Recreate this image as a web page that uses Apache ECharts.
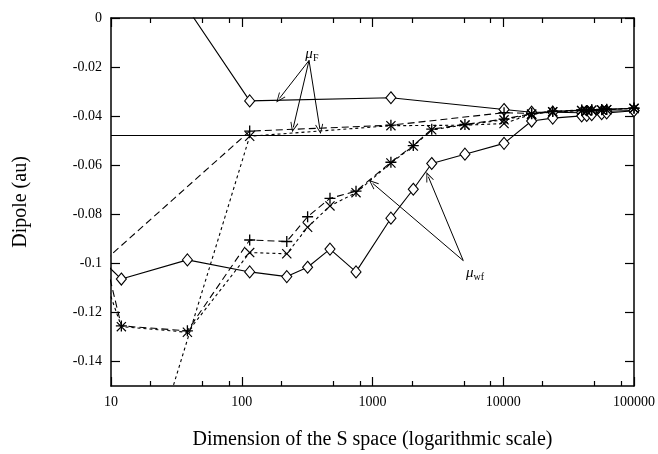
<!DOCTYPE html>
<html><head><meta charset="utf-8">
<script src="https://cdn.jsdelivr.net/npm/echarts@6/dist/echarts.min.js"></script>
<style>html,body{margin:0;padding:0;background:#fff}#c{width:658px;height:454px}</style>
</head><body><div id="c"></div>
<script>
const FONT = '"Liberation Serif", "DejaVu Serif", serif';

// ---- data ----
const xMajorTicks = [10, 100, 1000, 10000, 100000];
const xMinorTicks = [20, 50, 80, 200, 500, 800, 2000, 5000, 8000, 20000, 50000, 80000];
const yTicks = [-0.14, -0.12, -0.1, -0.08, -0.06, -0.04, -0.02, 0];

const refLineX = [10, 100000];
const refLineY = [-0.0479, -0.0479];

// mu_F, solid line with diamonds (first point lies outside the frame)
const muF_dia_x = [40, 115, 1383, 10140, 16480, 23900, 39800, 43500, 47500, 56600, 61800, 100000];
const muF_dia_y = [0.0025, -0.0338, -0.0325, -0.0373, -0.0384, -0.0384, -0.0386, -0.0385, -0.0384, -0.0382, -0.0380, -0.0377];

// mu_wf, solid line with diamonds
const muW_dia_x = [9, 12, 38.4, 115, 221, 319, 473, 748, 1383, 2051, 2838, 5093, 10140, 16480, 23900, 39800, 43500, 47500, 56600, 61800, 100000];
const muW_dia_y = [-0.1000, -0.1064, -0.0986, -0.1035, -0.1054, -0.1016, -0.0942, -0.1035, -0.0816, -0.0698, -0.0593, -0.0555, -0.0511, -0.0420, -0.0408, -0.0399, -0.0397, -0.0394, -0.0390, -0.0387, -0.0378];

// mu_F, long dashes with "+"
const muF_plus_x = [9, 115, 1383, 10140, 16480, 23900, 39800, 43500, 47500, 56600, 61800, 100000];
const muF_plus_y = [-0.0987, -0.0461, -0.0437, -0.0386, -0.0389, -0.0381, -0.0376, -0.0378, -0.0375, -0.0374, -0.0373, -0.0367];

// mu_F, short dashes with "x"
const muF_cross_x = [25, 115, 1383, 5093, 10140, 16480, 23900, 39800, 43500, 47500, 56600, 61800, 100000];
const muF_cross_y = [-0.1636, -0.0482, -0.0439, -0.0437, -0.0430, -0.0392, -0.0383, -0.0378, -0.0379, -0.0376, -0.0375, -0.0374, -0.0368];

// mu_wf, long dashes with "+"
const muW_plus_x = [9, 12, 38.4, 115, 221, 319, 473, 748, 1383, 2051, 2838, 5093, 10140, 16480, 23900, 39800, 43500, 47500, 56600, 61800, 100000];
const muW_plus_y = [-0.0978, -0.1255, -0.1275, -0.0905, -0.0911, -0.0810, -0.0735, -0.0706, -0.0588, -0.0520, -0.0453, -0.0434, -0.0412, -0.0390, -0.0380, -0.0375, -0.0377, -0.0374, -0.0373, -0.0372, -0.0368];

// mu_wf, short dashes with "x"
const muW_cross_x = [9, 12, 38.4, 115, 221, 319, 473, 748, 1383, 2051, 2838, 5093, 10140, 16480, 23900, 39800, 43500, 47500, 56600, 61800, 100000];
const muW_cross_y = [-0.1066, -0.1258, -0.1281, -0.0956, -0.0961, -0.0853, -0.0766, -0.0712, -0.0591, -0.0522, -0.0456, -0.0436, -0.0415, -0.0392, -0.0382, -0.0377, -0.0378, -0.0376, -0.0375, -0.0374, -0.0369];

// annotations (data coordinates)
const annF_from = [327, -0.0173];
const annF_to = [[194, -0.0328], [248, -0.0446], [396, -0.0453]];
const annW_from = [4946, -0.0989];
const annW_to = [[1003, -0.0674], [2673, -0.0647]];
const labF_pos = [344, -0.0148];
const labW_pos = [6080, -0.1040];

// ---- build ----
function pairs(xs, ys, hideFirst) {
  return xs.map((x, i) => (hideFirst && i === 0) ? { value: [x, ys[i]], symbol: 'none' } : [x, ys[i]]);
}
const PLUS = 'path://M4.4,0H5.6V4.4H10V5.6H5.6V10H4.4V5.6H0V4.4H4.4Z';
const CROSS = 'path://M0,0.85L0.85,0L5,4.15L9.15,0L10,0.85L5.85,5L10,9.15L9.15,10L5,5.85L0.85,10L0,9.15L4.15,5Z';
const CHEVRON = 'path://M5,0L10,10.5L9,11L5,2.4L1,11L0,10.5Z';

function lineSeries(name, xs, ys, symbol, size, dash, hideFirst) {
  const dia = symbol === 'diamond';
  return {
    name, type: 'line', xAxisIndex: 0, yAxisIndex: 0, clip: true,
    data: pairs(xs, ys, hideFirst),
    symbol, symbolSize: size, showSymbol: true,
    lineStyle: { color: '#000', width: 1.1, type: dash },
    itemStyle: dia ? { color: '#fff', borderColor: '#000', borderWidth: 1.1 } : { color: '#000', borderWidth: 0 },
    emphasis: { disabled: true }, silent: true, animation: false, z: dia ? 3 : 4
  };
}

const axisLineStyle = { color: '#000', width: 1.5 };
const tickStyle = { color: '#000', width: 1.2 };
const log10 = v => Math.log10(v);

const option = {
  animation: false,
  backgroundColor: '#fff',
  grid: { left: 111, right: 24, top: 18, bottom: 68, containLabel: false, outerBoundsMode: 'none' },
  xAxis: [
    { type: 'log', logBase: 10, min: 10, max: 100000, position: 'bottom', offset: 0,
      axisLine: { show: true, onZero: false, lineStyle: axisLineStyle },
      axisTick: { show: true, inside: true, length: 9, lineStyle: tickStyle, customValues: xMajorTicks },
      axisLabel: { show: true, color: '#000', fontFamily: FONT, fontSize: 14, margin: 9,
                   customValues: xMajorTicks, formatter: v => String(Math.round(v)) },
      splitLine: { show: false },
      name: 'Dimension of the S space (logarithmic scale)', nameLocation: 'middle', nameGap: 44,
      nameTextStyle: { color: '#000', fontFamily: FONT, fontSize: 20 } },
    { type: 'value', min: 1, max: 5, position: 'bottom', offset: 0,
      axisLine: { show: false, onZero: false },
      axisTick: { show: true, inside: true, length: 5, lineStyle: tickStyle, customValues: xMinorTicks.map(log10) },
      axisLabel: { show: false }, splitLine: { show: false } },
    { type: 'log', logBase: 10, min: 10, max: 100000, position: 'top', offset: 0,
      axisLine: { show: true, onZero: false, lineStyle: axisLineStyle },
      axisTick: { show: true, inside: true, length: 9, lineStyle: tickStyle, customValues: xMajorTicks },
      axisLabel: { show: false }, splitLine: { show: false } },
    { type: 'value', min: 1, max: 5, position: 'top', offset: 0,
      axisLine: { show: false, onZero: false },
      axisTick: { show: true, inside: true, length: 5, lineStyle: tickStyle, customValues: xMinorTicks.map(log10) },
      axisLabel: { show: false }, splitLine: { show: false } }
  ],
  yAxis: [
    { type: 'value', min: -0.15, max: 0, position: 'left',
      axisLine: { show: true, onZero: false, lineStyle: axisLineStyle },
      axisTick: { show: true, inside: true, length: 9, lineStyle: tickStyle, customValues: yTicks },
      axisLabel: { show: true, color: '#000', fontFamily: FONT, fontSize: 14, margin: 9,
                   customValues: yTicks, formatter: v => (Math.abs(v) < 1e-9 ? '0' : String(+v.toFixed(2))) },
      splitLine: { show: false },
      name: 'Dipole (au)', nameLocation: 'middle', nameGap: 80, nameRotate: 90,
      nameTextStyle: { color: '#000', fontFamily: FONT, fontSize: 20 } },
    { type: 'value', min: -0.15, max: 0, position: 'right',
      axisLine: { show: true, onZero: false, lineStyle: axisLineStyle },
      axisTick: { show: true, inside: true, length: 9, lineStyle: tickStyle, customValues: yTicks },
      axisLabel: { show: false }, splitLine: { show: false } }
  ],
  series: [
    {
      name: 'ref', type: 'line', xAxisIndex: 0, yAxisIndex: 0, clip: true,
      data: pairs(refLineX, refLineY, false), symbol: 'none',
      lineStyle: { color: '#000', width: 1.1 }, silent: true, z: 2,
      markLine: {
        silent: true, animation: false,
        symbol: ['none', CHEVRON], symbolSize: [8, 10],
        lineStyle: { color: '#000', width: 1, type: 'solid' },
        label: { show: false }, emphasis: { disabled: true },
        data: annF_to.concat(annW_to).map((t, i) => [
          { coord: (i < annF_to.length ? annF_from : annW_from) },
          { coord: t }
        ])
      }
    },
    lineSeries('muF_dia', muF_dia_x, muF_dia_y, 'diamond', [10, 12], 'solid', true),
    lineSeries('muW_dia', muW_dia_x, muW_dia_y, 'diamond', [10, 12], 'solid', true),
    lineSeries('muF_plus', muF_plus_x, muF_plus_y, PLUS, 11, [7, 4], true),
    lineSeries('muF_cross', muF_cross_x, muF_cross_y, CROSS, 10, [3, 3], true),
    lineSeries('muW_plus', muW_plus_x, muW_plus_y, PLUS, 11, [7, 4], true),
    lineSeries('muW_cross', muW_cross_x, muW_cross_y, CROSS, 10, [3, 3], true)
  ]
};

const chart = echarts.init(document.getElementById('c'), null, { renderer: 'canvas' });
chart.setOption(option);

const finder = { xAxisIndex: 0, yAxisIndex: 0 };
const pF = chart.convertToPixel(finder, labF_pos);
const pW = chart.convertToPixel(finder, labW_pos);
const rich = {
  m: { fontFamily: FONT, fontStyle: 'italic', fontSize: 15, fill: '#000', color: '#000', verticalAlign: 'middle', lineHeight: 18 },
  s: { fontFamily: FONT, fontSize: 10, fill: '#000', color: '#000', verticalAlign: 'bottom', lineHeight: 12, padding: [4, 0, 0, 0] }
};
chart.setOption({
  graphic: [
    { type: 'text', x: pF[0], y: pF[1], silent: true, z: 10,
      style: { text: '{m|μ}{s|F}', rich, align: 'center', verticalAlign: 'middle' } },
    { type: 'text', x: pW[0], y: pW[1], silent: true, z: 10,
      style: { text: '{m|μ}{s|wf}', rich, align: 'center', verticalAlign: 'middle' } }
  ]
});
</script></body></html>
